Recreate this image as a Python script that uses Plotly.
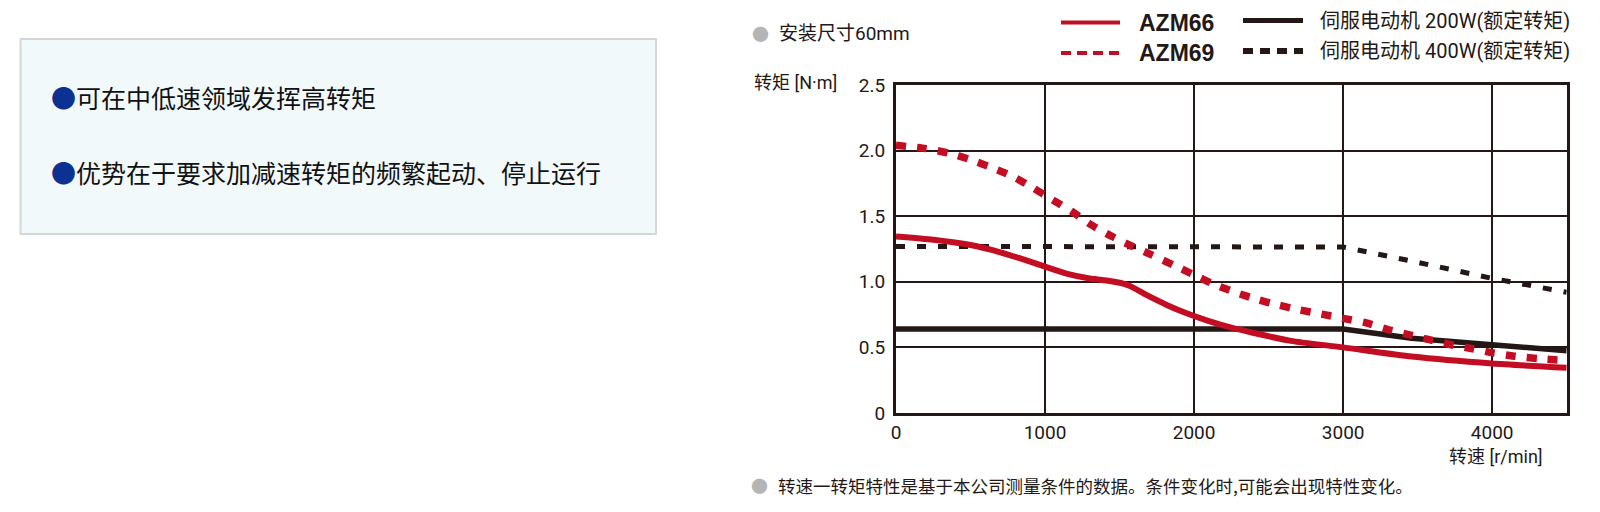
import plotly.graph_objects as go

# ---------------- data ----------------
rpm_azm66 = [0, 250, 500, 700, 870, 1000, 1150, 1300, 1400, 1530, 1575, 1680, 1820, 1950,
             2100, 2250, 2400, 2650, 3000, 3460, 4000, 4500]
torque_azm66 = [1.345, 1.32, 1.28, 1.225, 1.165, 1.115, 1.06, 1.025, 1.012, 0.985, 0.965,
                0.9, 0.822, 0.76, 0.7, 0.65, 0.61, 0.55, 0.50, 0.43, 0.377, 0.345]

rpm_azm69 = [0, 200, 350, 500, 630, 770, 910, 1050, 1180, 1310, 1450, 1580, 1715, 1860,
             2000, 2130, 2275, 2420, 2565, 2710, 2855, 3000, 3150, 3290, 3425, 3570, 3715,
             3860, 4005, 4150, 4310, 4500]
torque_azm69 = [2.04, 2.015, 1.982, 1.931, 1.875, 1.811, 1.722, 1.625, 1.536, 1.434, 1.345,
                1.274, 1.205, 1.128, 1.052, 0.983, 0.92, 0.866, 0.823, 0.785, 0.754, 0.721,
                0.688, 0.64, 0.601, 0.561, 0.522, 0.492, 0.458, 0.433, 0.415, 0.40]

rpm_servo200 = [0, 3000, 3460, 4000, 4500]
torque_servo200 = [0.64, 0.64, 0.57, 0.52, 0.475]

rpm_servo400 = [0, 3000, 3460, 4000, 4500]
torque_servo400 = [1.27, 1.265, 1.158, 1.026, 0.92]

x_ticks = [0, 1000, 2000, 3000, 4000]
x_tick_labels = ["0", "1000", "2000", "3000", "4000"]
y_ticks = [0, 0.5, 1.0, 1.5, 2.0, 2.5]
y_tick_labels = ["0", "0.5", "1.0", "1.5", "2.0", "2.5"]

names = ["AZM66", "AZM69", "伺服电动机 200W(额定转矩)", "伺服电动机 400W(额定转矩)"]
bullet_lines = ["可在中低速领域发挥高转矩", "优势在于要求加减速转矩的频繁起动、停止运行"]

# ---------------- style ----------------
W, H = 1600, 512
RED = "#c30d23"
BLK = "#231815"
CJK = "Noto Sans CJK SC"
MIX = "Roboto, Noto Sans CJK SC"
PL, PR, PT, PB = 896, 1566.7, 85, 413


def fx(x):
    return x / W


def fy(y):
    return 1 - y / H


fig = go.Figure()
fig.add_trace(go.Scatter(x=rpm_servo200, y=torque_servo200, mode="lines", name=names[2],
                         line=dict(color=BLK, width=5.5)))
fig.add_trace(go.Scatter(x=rpm_servo400, y=torque_servo400, mode="lines", name=names[3],
                         line=dict(color=BLK, width=5, dash="9px,12px")))
fig.add_trace(go.Scatter(x=rpm_azm66, y=torque_azm66, mode="lines", name=names[0],
                         line=dict(color=RED, width=6, shape="spline", smoothing=0.6)))
fig.add_trace(go.Scatter(x=rpm_azm69, y=torque_azm69, mode="lines", name=names[1],
                         line=dict(color=RED, width=7.5, dash="10px,11px", shape="spline",
                                   smoothing=0.6)))

shapes = []
annotations = []

# left info box
shapes.append(dict(type="rect", xref="paper", yref="paper",
                   x0=fx(20.5), x1=fx(656), y0=fy(234), y1=fy(39),
                   fillcolor="#f2f9fb", line=dict(color="#d3d7d7", width=2), layer="below"))
for txt, yy in zip(bullet_lines, [97, 171.5]):
    annotations.append(dict(xref="paper", yref="paper", x=fx(49), y=fy(yy),
                            xanchor="left", yanchor="middle", showarrow=False,
                            text='<span style="color:#0b3192">●</span>' + txt,
                            font=dict(family=CJK, size=25, color="#111111")))

# top note
annotations.append(dict(xref="paper", yref="paper", x=fx(760), y=fy(33), xanchor="center",
                        yanchor="middle", showarrow=False, text="●",
                        font=dict(family=CJK, size=17, color="#b5b5b5")))
annotations.append(dict(xref="paper", yref="paper", x=fx(777), y=fy(33), xanchor="left",
                        yanchor="middle", showarrow=False, text="安装尺寸60mm",
                        font=dict(family=MIX, size=19, color=BLK)))

# legend keys
leg = [
    (1061, 1120, 22.5, RED, 4, "solid", 1137, names[0], True),
    (1061, 1120, 53, RED, 4, "10px,6px", 1137, names[1], True),
    (1243, 1303, 20.5, BLK, 5, "solid", 1318, names[2], False),
    (1243, 1303, 51, BLK, 6, "10px,7px", 1318, names[3], False),
]
for x0, x1, yy, col, wd, dsh, tx, label, bold in leg:
    shapes.append(dict(type="line", xref="paper", yref="paper", x0=fx(x0), x1=fx(x1),
                       y0=fy(yy), y1=fy(yy), line=dict(color=col, width=wd, dash=dsh)))
    annotations.append(dict(xref="paper", yref="paper", x=fx(tx), y=fy(yy), xanchor="left",
                            yanchor="middle", showarrow=False,
                            text=("<b>%s</b>" % label) if bold else label,
                            font=dict(family="Liberation Sans" if bold else MIX,
                                      size=23 if bold else 20, color=BLK)))

# axis titles
annotations.append(dict(xref="paper", yref="paper", x=fx(752), y=fy(82), xanchor="left",
                        yanchor="middle", showarrow=False, text="转矩 [N·m]",
                        font=dict(family=MIX, size=18, color=BLK)))
annotations.append(dict(xref="paper", yref="paper", x=fx(1496), y=fy(456), xanchor="center",
                        yanchor="middle", showarrow=False, text="转速 [r/min]",
                        font=dict(family=MIX, size=18, color=BLK)))

# footnote
annotations.append(dict(xref="paper", yref="paper", x=fx(759), y=fy(485), xanchor="center",
                        yanchor="middle", showarrow=False, text="●",
                        font=dict(family=CJK, size=17, color="#b5b5b5")))
annotations.append(dict(xref="paper", yref="paper", x=fx(776), y=fy(485), xanchor="left",
                        yanchor="middle", showarrow=False,
                        text="转速一转矩特性是基于本公司测量条件的数据。条件变化时,可能会出现特性变化。",
                        font=dict(family=CJK, size=17.5, color=BLK)))

fig.update_layout(
    width=W, height=H, autosize=False,
    margin=dict(l=0, r=0, t=0, b=0, pad=0, autoexpand=False),
    paper_bgcolor="white", plot_bgcolor="white",
    showlegend=False,
    shapes=shapes, annotations=annotations,
    xaxis=dict(domain=[fx(PL), fx(PR)], range=[0, 4500], tickvals=x_ticks,
               ticktext=x_tick_labels, showgrid=True, gridcolor=BLK, gridwidth=2,
               showline=True, mirror=True, linecolor=BLK, linewidth=3, zeroline=False,
               ticks="", automargin=False,
               tickfont=dict(family=MIX, size=19, color=BLK), fixedrange=True),
    yaxis=dict(domain=[fy(PB), fy(PT)], range=[0, 2.5], tickvals=y_ticks,
               ticktext=y_tick_labels, showgrid=True, gridcolor=BLK, gridwidth=2,
               showline=True, mirror=True, linecolor=BLK, linewidth=3, zeroline=False,
               ticks="", ticklabelstandoff=4, automargin=False,
               tickfont=dict(family=MIX, size=19, color=BLK), fixedrange=True),
)

fig.write_html("out.html", config={"displayModeBar": False, "responsive": False},
               post_script="document.body.style.margin='0';")
